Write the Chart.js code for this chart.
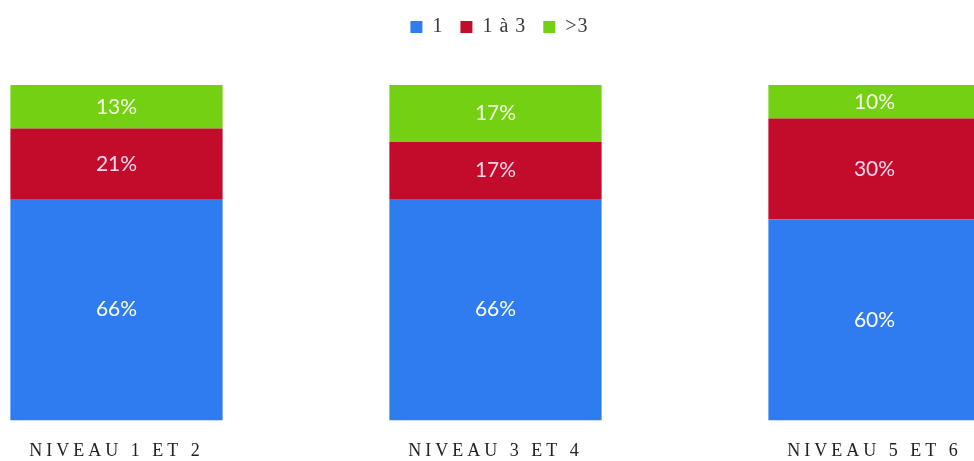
<!DOCTYPE html>
<html>
<head>
<meta charset="utf-8">
<script src="https://cdn.jsdelivr.net/npm/chart.js@4"></script>
<style>
  html, body { margin: 0; padding: 0; background: #ffffff; overflow: hidden; }
  #wrap { position: absolute; left: -73px; top: 0; width: 1137px; height: 461px; }
</style>
</head>
<body>
<div id="wrap"><canvas id="niveauChart"></canvas></div>
<script>
const categories = ['NIVEAU 1 ET 2', 'NIVEAU 3 ET 4', 'NIVEAU 5 ET 6'];
const seriesNames = ['1', '1 à 3', '>3'];
const valuesOne = [66, 66, 60];
const valuesOneToThree = [21, 17, 30];
const valuesMoreThree = [13, 17, 10];

const colors = ['#2e7cf0', '#c30b2b', '#74d012'];
const labelColors = ['#ffffff', '#ffd6ea', '#f4ffe6'];

// spaced-out lettering for the axis labels (legend gets a bit less)
const letterSpacing = {
    id: 'letterSpacing',
    beforeInit(chart) {
        const fit = chart.legend.fit;
        chart.legend.fit = function () {
            fit.bind(chart.legend)();
            this.height += 38; // push the plot down below the legend
        };
        const draw = chart.legend.draw;
        chart.legend.draw = function () {
            const prev = chart.ctx.letterSpacing;
            chart.ctx.letterSpacing = '1px';
            draw.apply(chart.legend, arguments);
            chart.ctx.letterSpacing = prev;
        };
    },
    beforeDraw(chart) {
        chart.ctx.letterSpacing = '4px';
    },
    beforeDatasetsDraw(chart) {
        chart.ctx.letterSpacing = '0px';
    }
};

// percentage labels in the middle of each segment
const segmentLabels = {
    id: 'segmentLabels',
    afterDatasetsDraw(chart) {
        const ctx = chart.ctx;
        ctx.save();
        ctx.font = '21px Lato';
        ctx.textAlign = 'center';
        ctx.textBaseline = 'middle';
        chart.data.datasets.forEach((ds, i) => {
            const meta = chart.getDatasetMeta(i);
            meta.data.forEach((bar, j) => {
                ctx.fillStyle = labelColors[i];
                ctx.fillText(ds.data[j] + '%', bar.x, (bar.y + bar.base) / 2);
            });
        });
        ctx.restore();
    }
};

new Chart(document.getElementById('niveauChart'), {
    type: 'bar',
    data: {
        labels: categories,
        datasets: [
            { label: seriesNames[0], data: valuesOne, backgroundColor: colors[0] },
            { label: seriesNames[1], data: valuesOneToThree, backgroundColor: colors[1] },
            { label: seriesNames[2], data: valuesMoreThree, backgroundColor: colors[2] }
        ]
    },
    options: {
        responsive: true,
        maintainAspectRatio: false,
        animation: false,
        layout: { padding: { top: 0, bottom: 3, left: 0, right: 0 } },
        datasets: {
            bar: { barPercentage: 0.56, categoryPercentage: 1 }
        },
        plugins: {
            legend: {
                labels: {
                    color: '#3a3a3a',
                    boxWidth: 12,
                    boxHeight: 12,
                    padding: 17,
                    font: { family: 'Liberation Serif', size: 20 }
                }
            },
            tooltip: { enabled: false }
        },
        scales: {
            x: {
                stacked: true,
                grid: { display: false, drawTicks: false },
                border: { display: false },
                ticks: {
                    color: '#222222',
                    padding: 20,
                    font: { family: 'Liberation Serif', size: 18 }
                },
                afterFit(scale) {
                    scale.height -= 24;
                }
            },
            y: {
                stacked: true,
                display: false,
                min: 0,
                max: 100
            }
        }
    },
    plugins: [letterSpacing, segmentLabels]
});
</script>
</body>
</html>
